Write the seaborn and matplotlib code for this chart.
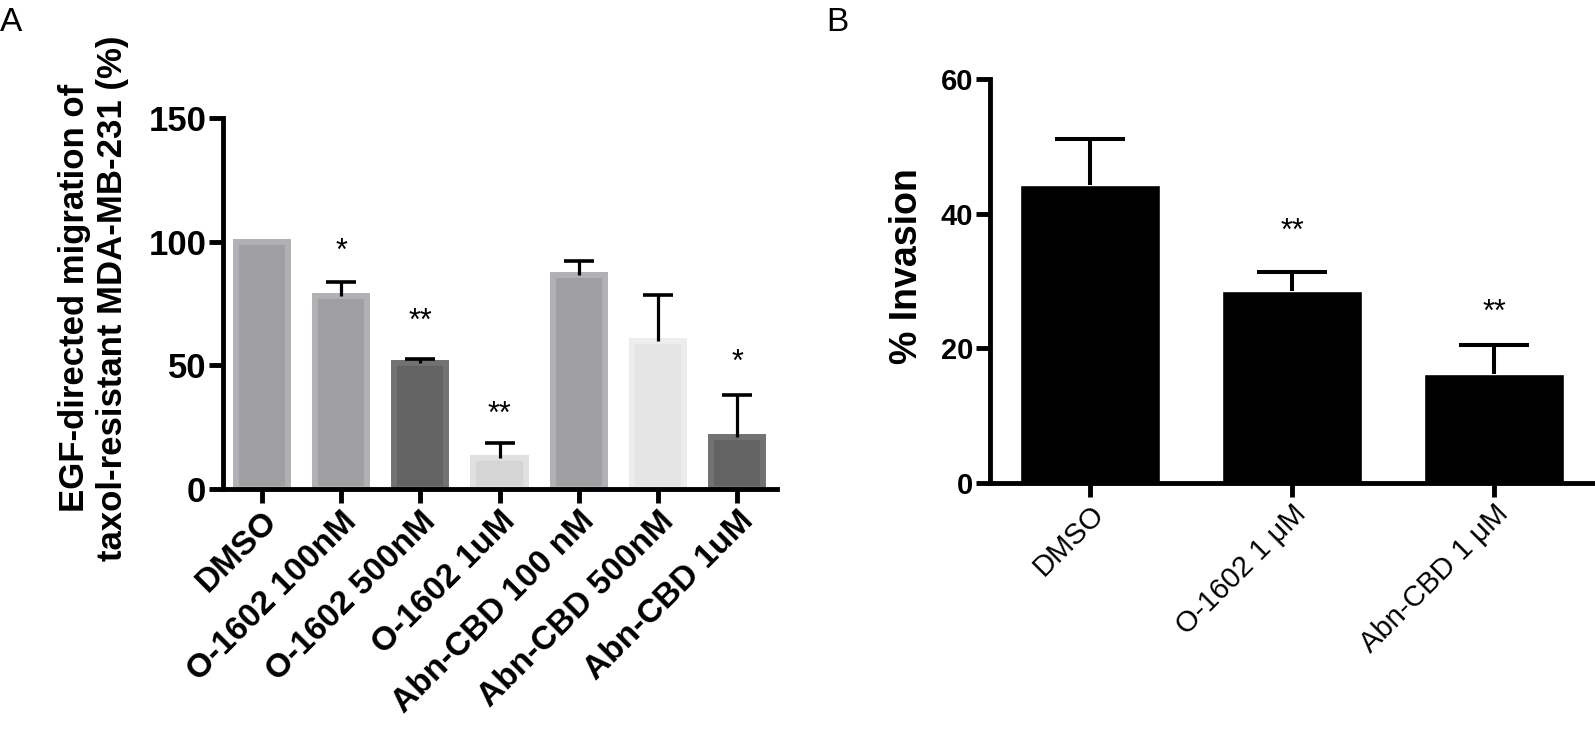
import numpy as np
import pandas as pd
import matplotlib
matplotlib.use("Agg")
import matplotlib.pyplot as plt
from matplotlib import font_manager
import seaborn as sns

# ---- data: panel A (migration) ----
a_labels = ["DMSO", "O-1602 100nM", "O-1602 500nM", "O-1602 1uM",
            "Abn-CBD 100 nM", "Abn-CBD 500nM", "Abn-CBD 1uM"]
a_means = [100, 78.2, 51.1, 12.7, 86.4, 59.8, 20.9]
a_sem = [0, 5.6, 1.6, 5.8, 5.8, 18.6, 17.1]
a_stars = ["", "*", "**", "**", "", "", "*"]
a_colors = ["#a09fa4", "#a09fa4", "#626362", "#d5d5d5", "#a09fa4", "#e5e5e5", "#626362"]
a_edges = ["#b1b0b4", "#b1b0b4", "#717271", "#e0e0e0", "#b1b0b4", "#ededed", "#717271"]

# ---- data: panel B (invasion) ----
b_labels = ["DMSO", "O-1602 1 \u03bcM", "Abn-CBD 1 \u03bcM"]
b_means = [44.2, 28.5, 16.2]
b_sem = [6.9, 2.8, 4.3]
b_stars = ["", "**", "**"]

sns.set_style("white")
names = {f.name for f in font_manager.fontManager.ttflist}
narrow = "Liberation Sans Narrow" if "Liberation Sans Narrow" in names else "Liberation Sans"
plt.rcParams["font.family"] = ["Liberation Sans", "DejaVu Sans"]
plt.rcParams["text.color"] = "black"
plt.rcParams["axes.labelcolor"] = "black"
plt.rcParams["xtick.color"] = "black"
plt.rcParams["ytick.color"] = "black"

fig = plt.figure(figsize=(15.95, 7.40), dpi=100)
axA = fig.add_axes([0.1398, 0.3392, 0.3473, 0.5014])
axB = fig.add_axes([0.6207, 0.3473, 0.3793, 0.5460])

dfA = pd.DataFrame({"group": a_labels, "value": a_means})
sns.barplot(data=dfA, x="group", y="value", hue="group", palette=a_colors,
            legend=False, width=0.66, ax=axA, errorbar=None)
for p, ec in zip(axA.patches, a_edges):
    p.set_edgecolor(ec)
    p.set_linewidth(4.3)
xa = np.arange(len(a_labels))
tops_a = np.array(a_means) + np.array(a_sem)
has_err = np.array(a_sem) > 0
axA.vlines(xa[has_err], np.array(a_means)[has_err], tops_a[has_err], color="k", lw=2.3, zorder=5)
axA.plot(xa[has_err], tops_a[has_err], ls="none", marker="_", ms=21, mew=2.6, color="k", zorder=5)
star_y_a = [0, 96, 67.5, 30, 0, 0, 51]
for i, s in enumerate(a_stars):
    if s:
        axA.text(i, star_y_a[i], s, ha="center", va="center", fontsize=22, color="black")

axA.set_xlim(-0.49, 6.5)
axA.set_ylim(0, 150)
axA.set_yticks([0, 50, 100, 150])
axA.set_xlabel("")
axA.set_ylabel("EGF-directed migration of\ntaxol-resistant MDA-MB-231 (%)",
               fontsize=25, fontweight="bold", color="black")
axA.yaxis.set_label_coords(-0.17, 0.515)
axA.set_xticks(xa)
axA.set_xticklabels(a_labels, rotation=45, ha="right", rotation_mode="anchor",
                    fontsize=24, fontweight="bold", color="black")
for t in axA.get_yticklabels():
    t.set_fontfamily([narrow, "DejaVu Sans"])
    t.set_fontweight("bold")
    t.set_fontsize(25)
    t.set_color("black")

dfB = pd.DataFrame({"group": b_labels, "value": b_means})
sns.barplot(data=dfB, x="group", y="value", color="black", width=0.69,
            ax=axB, errorbar=None, saturation=1)
xb = np.arange(len(b_labels))
tops_b = np.array(b_means) + np.array(b_sem)
axB.vlines(xb, b_means, tops_b, color="k", lw=2.9, zorder=5)
axB.plot(xb, tops_b, ls="none", marker="_", ms=51, mew=2.9, color="k", zorder=5)
star_y_b = [0, 37.3, 25.2]
for i, s in enumerate(b_stars):
    if s:
        axB.text(i, star_y_b[i], s, ha="center", va="center", fontsize=22, color="black")

axB.set_xlim(-0.495, 2.5)
axB.set_ylim(0, 60)
axB.set_yticks([0, 20, 40, 60])
axB.set_xlabel("")
axB.set_ylabel("% Invasion", fontsize=27, fontweight="bold", color="black")
axB.yaxis.set_label_coords(-0.108, 0.537)
axB.set_xticks(xb)
axB.set_xticklabels(b_labels, rotation=45, ha="right", rotation_mode="anchor",
                    fontsize=21, color="black")
for t in axB.get_yticklabels():
    t.set_fontfamily([narrow, "DejaVu Sans"])
    t.set_fontweight("bold")
    t.set_fontsize(21)
    t.set_color("black")

for ax in (axA, axB):
    sns.despine(ax=ax)
    for sp in ("left", "bottom"):
        ax.spines[sp].set_linewidth(3.5)
        ax.spines[sp].set_color("black")
    ax.tick_params(axis="both", direction="out", length=10, width=3.5, color="black",
                   labelcolor="black", left=True, bottom=True, pad=2)
    ax.grid(False)

fig.text(0.0, 0.99, "A", fontsize=24, va="top", ha="left", color="black")
fig.text(0.518, 0.99, "B", fontsize=24, va="top", ha="left", color="black")

fig.savefig("out.png", dpi=100)
